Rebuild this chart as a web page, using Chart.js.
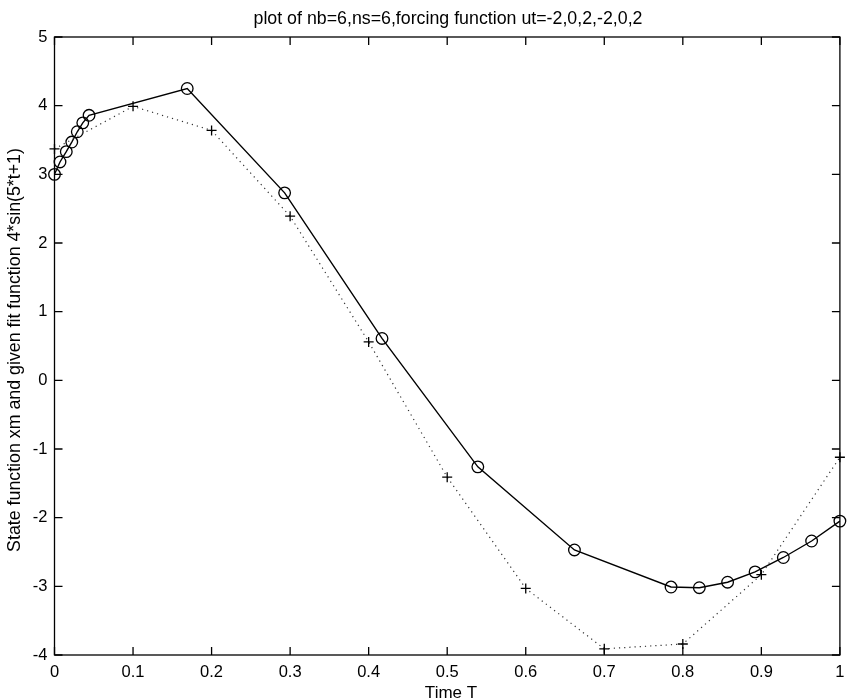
<!DOCTYPE html>
<html>
<head>
<meta charset="utf-8">
<script src="https://cdn.jsdelivr.net/npm/chart.js@4.4.1/dist/chart.umd.min.js"></script>
<style>
  html, body { margin: 0; padding: 0; background: #fff; }
  #plot { display: block; }
</style>
</head>
<body>
<canvas id="plot" width="847" height="699"></canvas>
<script>
// fit function samples (plus markers, dotted)
const fitTime = [0, 0.1, 0.2, 0.3, 0.4, 0.5, 0.6, 0.7, 0.8, 0.9, 1.0];
const fitValues = [3.37, 3.99, 3.64, 2.39, 0.56, -1.41, -3.03, -3.91, -3.84, -2.83, -1.12];

// state function xm (circles, solid)
const stateTime = [0, 0.007, 0.015, 0.022, 0.029, 0.036, 0.044, 0.169, 0.293, 0.417,
                   0.539, 0.662, 0.785, 0.821, 0.857, 0.892, 0.928, 0.964, 1.0];
const stateValues = [3.00, 3.18, 3.33, 3.47, 3.62, 3.75, 3.86, 4.25, 2.73, 0.61,
                     -1.26, -2.47, -3.01, -3.02, -2.94, -2.79, -2.58, -2.34, -2.05];

const xTicks = [0, 0.1, 0.2, 0.3, 0.4, 0.5, 0.6, 0.7, 0.8, 0.9, 1];
const yTicks = [-4, -3, -2, -1, 0, 1, 2, 3, 4, 5];

const titleText = 'plot of nb=6,ns=6,forcing function ut=-2,0,2,-2,0,2';
const xTitle = 'Time T';
const yTitle = 'State function xm and given fit function 4*sin(5*t+1)';

const FONT = '"Liberation Sans", Arial, Helvetica, sans-serif';

function toPoints(xs, ys) {
  return xs.map((x, i) => ({ x: x, y: ys[i] }));
}

// matlab style box with inward ticks on all four sides, plus the texts
const matlabFrame = {
  id: 'matlabFrame',
  afterDraw(chart) {
    const { ctx, chartArea: a, scales } = chart;
    const tick = 8;
    ctx.save();
    ctx.strokeStyle = '#000';
    ctx.lineWidth = 1.3;
    ctx.strokeRect(a.left, a.top, a.right - a.left, a.bottom - a.top);
    ctx.beginPath();
    xTicks.forEach(v => {
      const px = scales.x.getPixelForValue(v);
      ctx.moveTo(px, a.bottom); ctx.lineTo(px, a.bottom - tick);
      ctx.moveTo(px, a.top); ctx.lineTo(px, a.top + tick);
    });
    yTicks.forEach(v => {
      const py = scales.y.getPixelForValue(v);
      ctx.moveTo(a.left, py); ctx.lineTo(a.left + tick, py);
      ctx.moveTo(a.right, py); ctx.lineTo(a.right - tick, py);
    });
    ctx.stroke();

    ctx.fillStyle = '#000';
    ctx.font = '17.8px ' + FONT;
    ctx.textAlign = 'center';
    ctx.textBaseline = 'alphabetic';
    ctx.fillText(titleText, 448, 24);
    ctx.font = '17px ' + FONT;
    ctx.fillText(xTitle, 451, 698);
    ctx.font = '17.8px ' + FONT;
    ctx.translate(20, 350);
    ctx.rotate(-Math.PI / 2);
    ctx.fillText(yTitle, 0, 0);
    ctx.restore();
  }
};

new Chart(document.getElementById('plot'), {
  type: 'scatter',
  data: {
    datasets: [
      {
        label: 'fit',
        data: toPoints(fitTime, fitValues),
        showLine: true,
        borderColor: '#333',
        borderWidth: 1.2,
        borderDash: [1.2, 4],
        pointStyle: 'cross',
        pointRadius: 5,
        pointBorderWidth: 1.3,
        pointBorderColor: '#000',
        tension: 0,
        clip: false
      },
      {
        label: 'xm',
        data: toPoints(stateTime, stateValues),
        showLine: true,
        borderColor: '#000',
        borderWidth: 1.4,
        pointStyle: 'circle',
        pointRadius: 5.8,
        pointBorderWidth: 1.3,
        pointBorderColor: '#000',
        pointBackgroundColor: 'rgba(0,0,0,0)',
        tension: 0,
        clip: false
      }
    ]
  },
  options: {
    responsive: false,
    animation: false,
    devicePixelRatio: 1,
    layout: { padding: { left: 0, top: 37, right: 5, bottom: 0 } },
    plugins: {
      legend: { display: false },
      tooltip: { enabled: false },
      title: { display: false }
    },
    scales: {
      x: {
        type: 'linear',
        min: 0,
        max: 1,
        afterFit: s => { s.height = 44; s.paddingLeft = 0; s.paddingRight = 0; },
        afterBuildTicks: s => { s.ticks = xTicks.map(v => ({ value: v })); },
        grid: { display: false, drawTicks: false },
        border: { display: false },
        ticks: {
          padding: 8,
          color: '#000',
          font: { family: FONT, size: 16.5 },
          maxRotation: 0,
          callback: v => String(v)
        }
      },
      y: {
        type: 'linear',
        min: -4,
        max: 5,
        afterFit: s => { s.width = 54.5; s.paddingTop = 0; s.paddingBottom = 0; },
        afterBuildTicks: s => { s.ticks = yTicks.map(v => ({ value: v })); },
        grid: { display: false, drawTicks: false },
        border: { display: false },
        ticks: {
          padding: 7,
          color: '#000',
          font: { family: FONT, size: 16.5 },
          callback: v => String(v)
        }
      }
    }
  },
  plugins: [matlabFrame]
});
</script>
</body>
</html>
